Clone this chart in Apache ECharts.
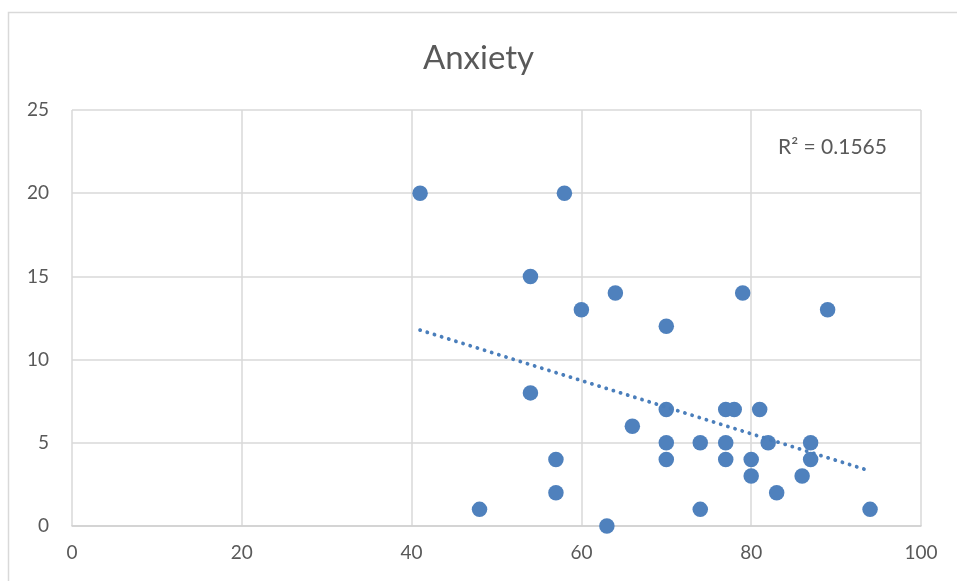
<!DOCTYPE html>
<html>
<head>
<meta charset="utf-8">
<script src="https://cdn.jsdelivr.net/npm/echarts@6/dist/echarts.min.js"></script>
<style>html,body{margin:0;padding:0;background:#fff}#c{width:957px;height:581px}</style>
</head>
<body>
<div id="c"></div>
<script>
const titleText = 'Anxiety';
const r2Label = 'R² = 0.1565';
const xValues = [41,58,54,64,79,60,89,70,54,70,77,78,81,66,70,74,77,82,87,57,70,77,80,87,80,86,57,83,48,74,94,63];
const yValues = [20,20,15,14,14,13,13,12,8,7,7,7,7,6,5,5,5,5,5,4,4,4,4,4,3,3,2,2,1,1,1,0];
const xTicks = [0,20,40,60,80,100];
const yTicks = [0,5,10,15,20,25];

const points = xValues.map((x, i) => [x, yValues[i]]);
// least-squares trendline
const n = xValues.length;
const mx = xValues.reduce((a,b)=>a+b,0)/n;
const my = yValues.reduce((a,b)=>a+b,0)/n;
let sxy = 0, sxx = 0;
for (let i = 0; i < n; i++) { sxy += (xValues[i]-mx)*(yValues[i]-my); sxx += (xValues[i]-mx)**2; }
const slope = sxy/sxx, icpt = my - slope*mx;
const xmin = Math.min(...xValues), xmax = Math.max(...xValues);
const trend = [[xmin, icpt + slope*xmin], [xmax, icpt + slope*xmax]];

const font = 'Lato, "Open Sans", sans-serif';
const chart = echarts.init(document.getElementById('c'), null, {renderer: 'canvas'});
chart.setOption({
  animation: false,
  backgroundColor: '#fff',
  title: {text: titleText, left: 'center', top: 37, textStyle: {fontFamily: font, fontSize: 33, fontWeight: 'normal', color: '#595959'}},
  grid: {left: 72, top: 110, right: 36, bottom: 55, containLabel: false},
  xAxis: {
    type: 'value', min: xTicks[0], max: xTicks[xTicks.length-1], interval: 20,
    axisLine: {show: true, lineStyle: {color: '#d0d0d0', width: 1.5}},
    axisTick: {show: false},
    splitLine: {show: true, lineStyle: {color: '#d9d9d9', width: 1.5}},
    axisLabel: {color: '#595959', fontFamily: font, fontSize: 19, margin: 17}
  },
  yAxis: {
    type: 'value', min: yTicks[0], max: yTicks[yTicks.length-1], interval: 5,
    axisLine: {show: false},
    axisTick: {show: false},
    splitLine: {show: true, lineStyle: {color: '#d9d9d9', width: 1.5}},
    axisLabel: {color: '#595959', fontFamily: font, fontSize: 19, margin: 23}
  },
  graphic: [
    {type: 'rect', shape: {x: 8.5, y: 12.5, width: 2000, height: 2000}, style: {fill: 'none', stroke: '#d9d9d9', lineWidth: 1.5}, silent: true},
    {type: 'text', left: 778, top: 137, style: {text: r2Label, font: '21px ' + font, fill: '#595959'}}
  ],
  series: [
    {type: 'line', data: trend, showSymbol: false, symbol: 'none', z: 3,
     lineStyle: {color: '#4a7ebb', width: 3.8, type: [0.1, 7.4], cap: 'round'}},
    {type: 'scatter', data: points, symbolSize: 15.5, z: 2, itemStyle: {color: '#4f81bd', opacity: 1}}
  ]
});
</script>
</body>
</html>
